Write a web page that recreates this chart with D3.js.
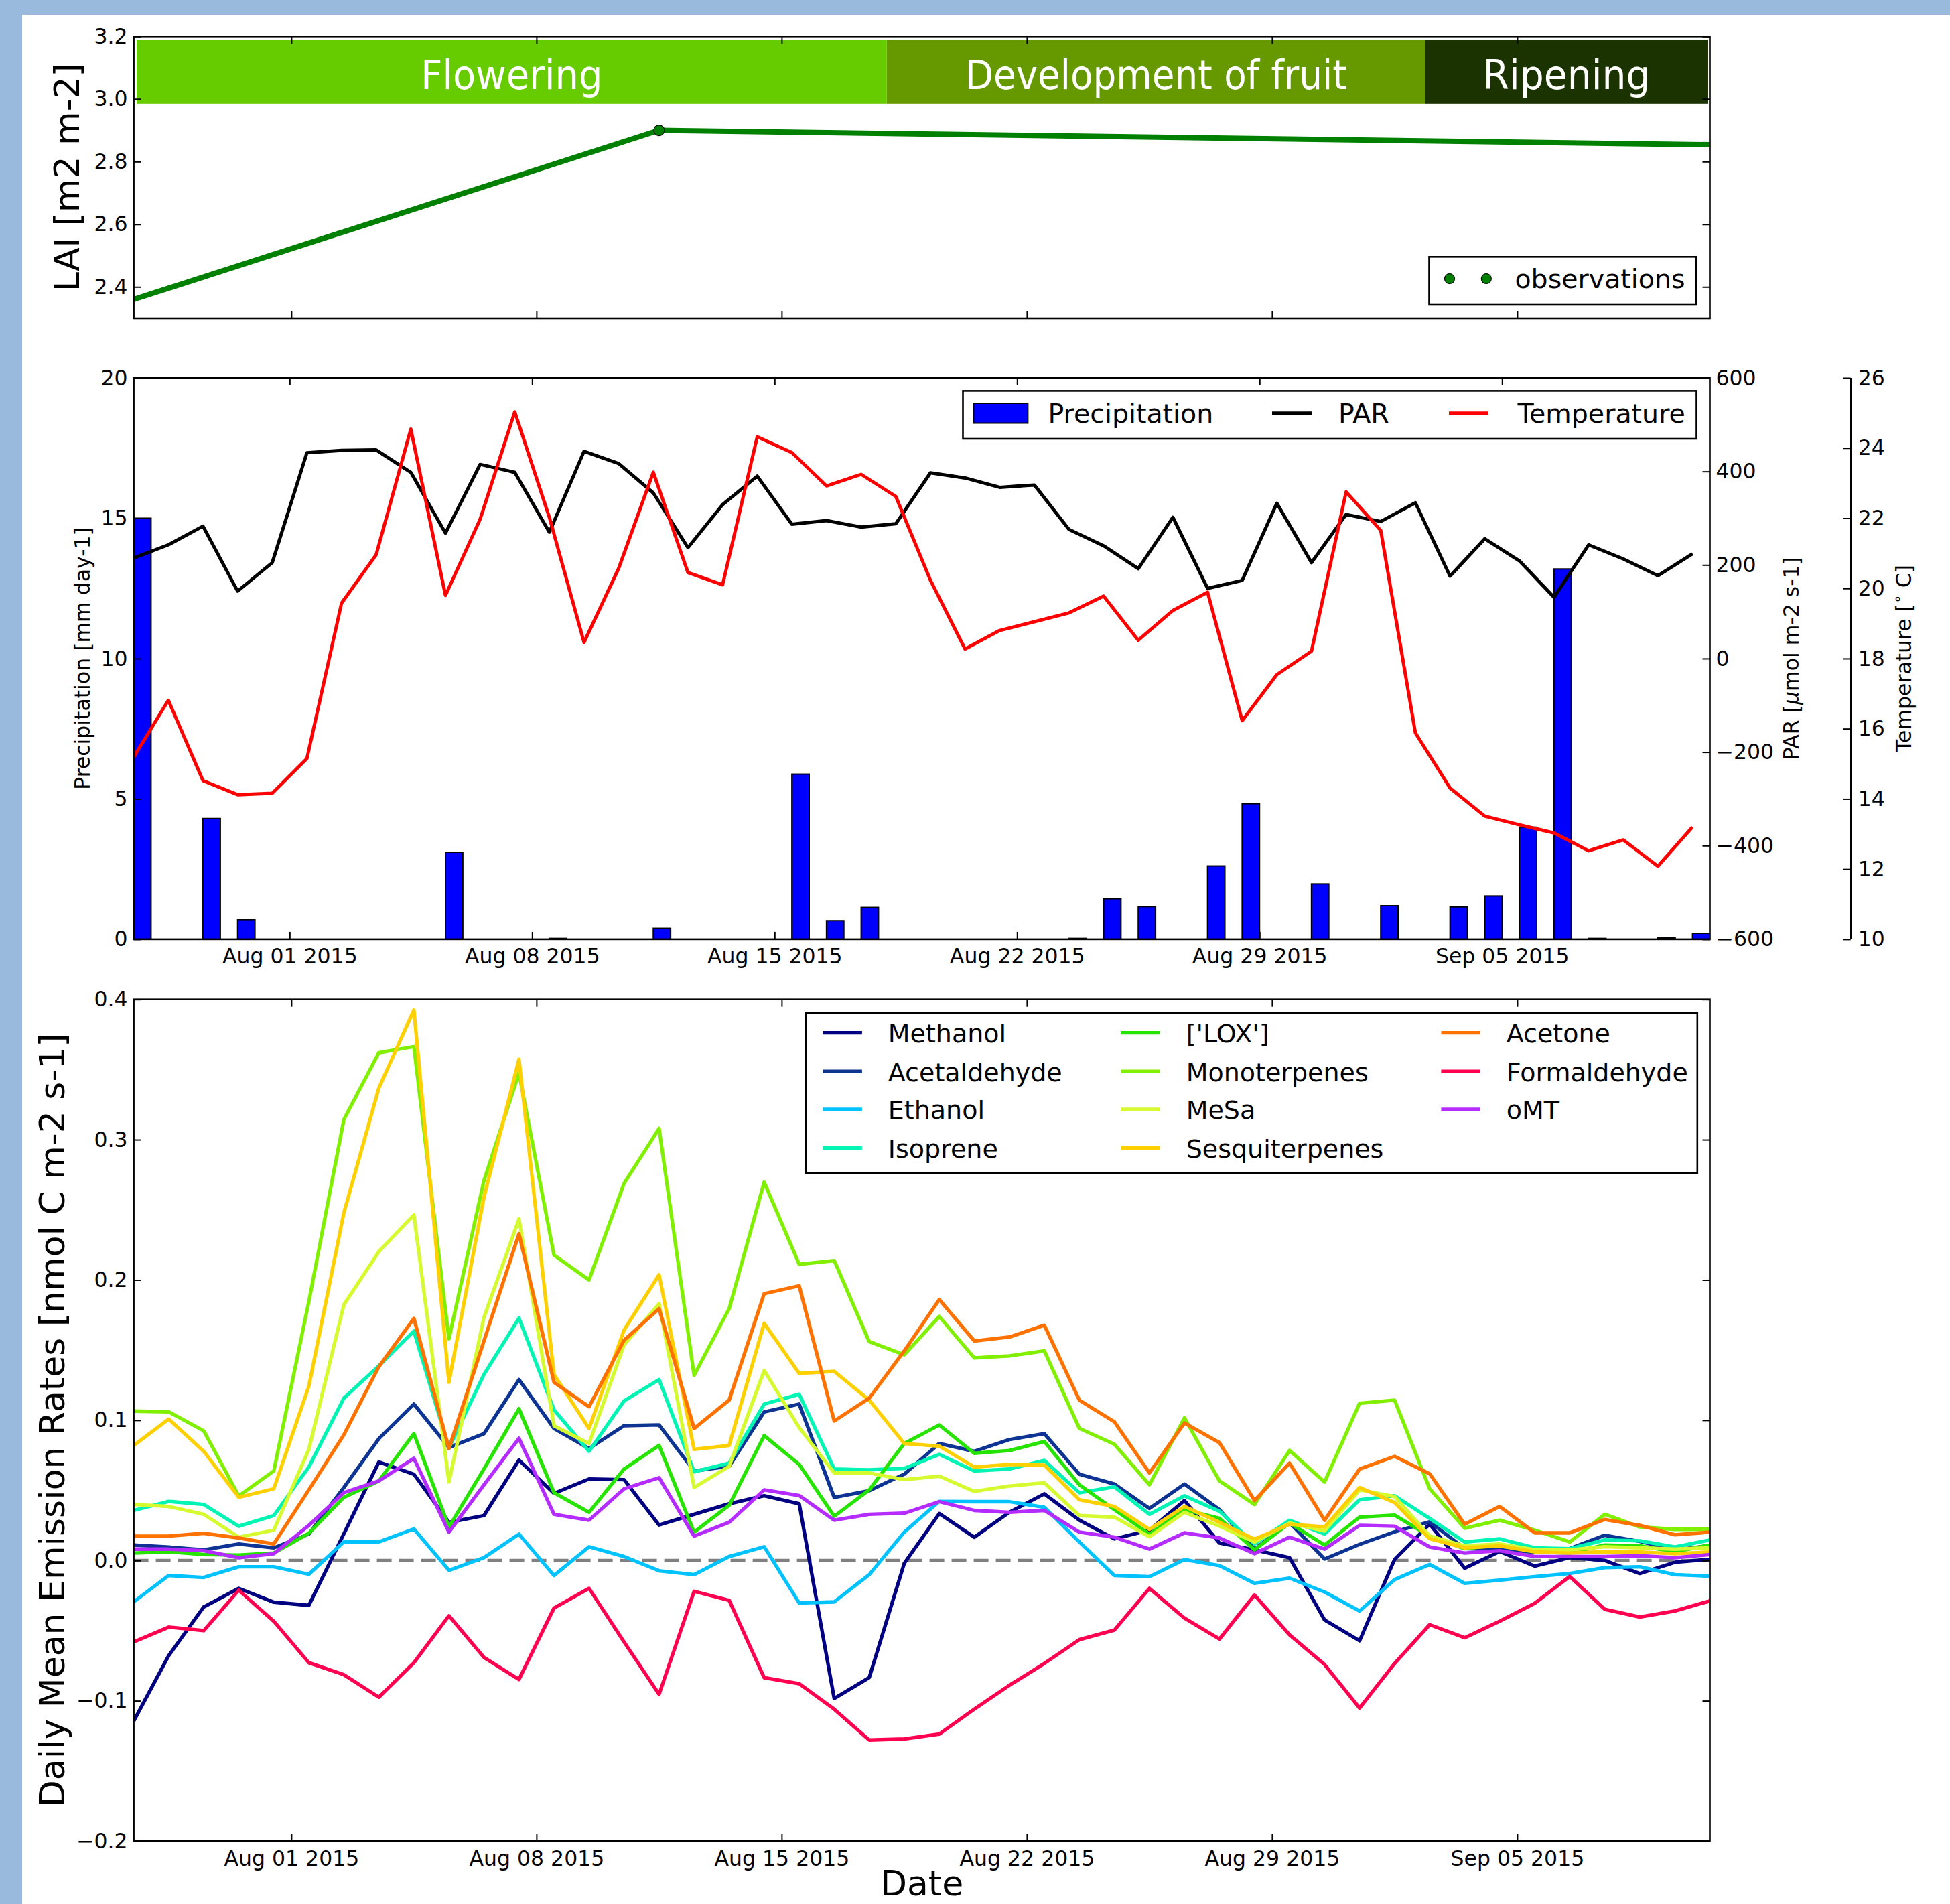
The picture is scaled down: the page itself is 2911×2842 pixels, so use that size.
<!DOCTYPE html>
<html>
<head>
<meta charset="utf-8">
<script src="https://cdn.jsdelivr.net/npm/d3@7"></script>
<style>
  html, body { margin: 0; padding: 0; background: #fff; }
  svg { display: block; }
</style>
</head>
<body>
<svg id="chart" width="2911" height="2842"></svg>
<script>
// ---------------- DATA ----------------
const days = [
  "2015-07-27","2015-07-28","2015-07-29","2015-07-30","2015-07-31",
  "2015-08-01","2015-08-02","2015-08-03","2015-08-04","2015-08-05","2015-08-06","2015-08-07",
  "2015-08-08","2015-08-09","2015-08-10","2015-08-11","2015-08-12","2015-08-13","2015-08-14",
  "2015-08-15","2015-08-16","2015-08-17","2015-08-18","2015-08-19","2015-08-20","2015-08-21",
  "2015-08-22","2015-08-23","2015-08-24","2015-08-25","2015-08-26","2015-08-27","2015-08-28",
  "2015-08-29","2015-08-30","2015-08-31","2015-09-01","2015-09-02","2015-09-03","2015-09-04",
  "2015-09-05","2015-09-06","2015-09-07","2015-09-08","2015-09-09","2015-09-10"
];
const xTickLabels = ["2015-08-01","2015-08-08","2015-08-15","2015-08-22","2015-08-29","2015-09-05"];

// LAI panel
const laiDates  = ["2015-07-27 12:00","2015-08-11 12:00","2015-09-10 12:00"];
const laiValues = [2.36, 2.90, 2.854];
const obsDates  = ["2015-08-11 12:00"];
const obsValues = [2.90];
const laiTicks  = [2.4, 2.6, 2.8, 3.0, 3.2];
const phaseNames  = ["Flowering", "Development of fruit", "Ripening"];
const phaseStarts = ["2015-07-27 14:00", "2015-08-18 00:00", "2015-09-02 09:00"];
const phaseEnds   = ["2015-08-18 00:00", "2015-09-02 09:00", "2015-09-10 10:30"];
const phaseColors = ["#66cc00", "#669900", "#1a3300"];
const phaseTextWidth = [271, 570, 250];

// Meteo panel
const precipitation = [15.0,0,4.3,0.7,0,0,0,0,0,3.1,0,0,0.03,0,0,0.39,0,0,0,5.88,0.66,1.13,0,0,0,0,0,0.03,1.44,1.16,0,2.61,4.83,0,1.97,0,1.19,0,1.15,1.54,3.99,13.19,0.03,0,0.05,0.21];
const par = [215,243,283,144,205,440,445,446,398,268,415,398,270,443,417,354,237,329,390,287,295,281,288,397,386,366,371,276,241,192,302,150,167,332,205,308,293,333,176,256,209,131,243,213,177,224];
const temperature = [15.19,16.81,14.52,14.12,14.16,15.15,19.58,20.96,24.54,19.80,21.97,25.03,22.02,18.46,20.57,23.31,20.45,20.10,24.32,23.87,22.92,23.25,22.62,20.23,18.27,18.80,19.05,19.30,19.78,18.52,19.37,19.89,16.23,17.54,18.21,22.75,21.65,15.88,14.31,13.51,13.26,13.03,12.52,12.83,12.08,13.20];
const precipTicks = [0,5,10,15,20];
const parTicks = [-600,-400,-200,0,200,400,600];
const tempTicks = [10,12,14,16,18,20,22,24,26];

// Emission panel
const methanol = [-0.1145,-0.0678,-0.0331,-0.0199,-0.0297,-0.032,0.019,0.0702,0.0615,0.0272,0.032,0.0716,0.0478,0.0581,0.0576,0.0253,0.0329,0.0404,0.0461,0.0404,-0.0984,-0.0835,-0.002,0.0334,0.0166,0.0343,0.0475,0.0287,0.0154,0.0216,0.0427,0.0124,0.0076,0.002,-0.0424,-0.0572,0.0008,0.026,-0.0055,0.0064,-0.004,0.002,0.0,-0.0093,-0.0013,0.0008];
const acetaldehyde = [0.011,0.0096,0.0076,0.0118,0.009,0.0188,0.052,0.0868,0.1115,0.0806,0.0904,0.1289,0.0941,0.0798,0.0961,0.0966,0.0638,0.0671,0.1059,0.1115,0.0449,0.0497,0.0615,0.0834,0.0778,0.0862,0.0904,0.0615,0.0545,0.0371,0.0545,0.0362,0.0081,0.027,0.001,0.0115,0.0204,0.0276,0.0085,0.0076,0.006,0.0085,0.018,0.0136,0.0076,0.0106];
const ethanol = [-0.0295,-0.0107,-0.0121,-0.0045,-0.0045,-0.0098,0.0132,0.0132,0.0225,-0.007,0.002,0.0188,-0.0107,0.0098,0.0028,-0.0073,-0.0101,0.0028,0.0098,-0.0303,-0.0295,-0.0101,0.0202,0.0421,0.0419,0.0419,0.0379,0.0132,-0.0107,-0.0115,0.0006,-0.0037,-0.0163,-0.0126,-0.0225,-0.036,-0.0136,-0.0028,-0.0163,-0.014,-0.0115,-0.0093,-0.0051,-0.0045,-0.0101,-0.0112];
const isoprene = [0.0357,0.0421,0.0399,0.0244,0.032,0.0666,0.1157,0.1388,0.1635,0.08,0.1326,0.1728,0.1073,0.0778,0.1138,0.1289,0.0632,0.0694,0.1115,0.1185,0.0652,0.0646,0.0657,0.0756,0.0638,0.0652,0.0713,0.0483,0.0525,0.0329,0.0461,0.0351,0.0118,0.0287,0.0188,0.0433,0.0461,0.03,0.0132,0.0154,0.009,0.0084,0.0146,0.014,0.0096,0.0146];
const lox = [0.0053,0.0062,0.0042,0.0039,0.0053,0.0194,0.045,0.0567,0.0904,0.0239,0.0652,0.1081,0.0483,0.0343,0.0652,0.082,0.0202,0.0393,0.089,0.0685,0.0315,0.0503,0.0834,0.0966,0.0764,0.0784,0.0848,0.0539,0.0362,0.0188,0.0362,0.03,0.0076,0.0267,0.011,0.0309,0.0323,0.0174,0.0084,0.0112,0.0062,0.0053,0.011,0.0104,0.0062,0.011];
const monoterpenes = [0.1065,0.106,0.0924,0.046,0.0638,0.1846,0.3143,0.362,0.3663,0.158,0.2708,0.3475,0.2177,0.2,0.2688,0.308,0.132,0.1795,0.2697,0.2112,0.2138,0.156,0.1466,0.1739,0.1444,0.1458,0.1494,0.0941,0.0829,0.054,0.1017,0.0567,0.0399,0.0784,0.0559,0.1121,0.1143,0.0511,0.023,0.0287,0.0216,0.0132,0.0329,0.0239,0.0222,0.0222];
const mesa = [0.0399,0.0385,0.0329,0.0166,0.0216,0.0792,0.1823,0.2202,0.2463,0.0559,0.1733,0.2435,0.0961,0.0834,0.1537,0.1831,0.052,0.0671,0.1354,0.0947,0.0624,0.0624,0.0576,0.0601,0.0492,0.0531,0.0553,0.032,0.0309,0.0169,0.0343,0.0244,0.0132,0.0267,0.0211,0.0503,0.0455,0.0174,0.0104,0.0118,0.0076,0.0076,0.0098,0.009,0.0081,0.009];
const sesquiterpenes = [0.082,0.1008,0.0778,0.045,0.0511,0.1242,0.2478,0.3368,0.3924,0.127,0.259,0.3573,0.1326,0.0941,0.1643,0.2037,0.0792,0.082,0.1691,0.1334,0.1348,0.1143,0.0834,0.0815,0.0666,0.0685,0.068,0.0433,0.0385,0.0222,0.0385,0.0272,0.0152,0.0258,0.0239,0.052,0.0413,0.0155,0.009,0.0104,0.0062,0.0053,0.0062,0.006,0.0048,0.006];
const acetone = [0.0174,0.0174,0.0194,0.016,0.0118,0.0503,0.0896,0.1382,0.1725,0.0798,0.1565,0.2329,0.127,0.1096,0.157,0.1795,0.0941,0.1143,0.1902,0.1958,0.0994,0.1157,0.1494,0.186,0.1565,0.1593,0.1677,0.1143,0.0989,0.0624,0.098,0.084,0.0427,0.0694,0.0287,0.0652,0.0742,0.0618,0.0258,0.0385,0.0197,0.0197,0.0292,0.025,0.0183,0.0202];
const formaldehyde = [-0.0581,-0.0475,-0.05,-0.0212,-0.0433,-0.0729,-0.0814,-0.0975,-0.0729,-0.0394,-0.0691,-0.0848,-0.0339,-0.0199,-0.0581,-0.0954,-0.022,-0.0284,-0.0835,-0.0878,-0.106,-0.128,-0.1272,-0.1238,-0.106,-0.089,-0.0734,-0.0564,-0.0496,-0.0199,-0.0411,-0.056,-0.0246,-0.053,-0.0742,-0.1052,-0.0734,-0.0458,-0.0551,-0.0433,-0.0305,-0.0114,-0.0348,-0.0403,-0.036,-0.0288];
const omt = [0.0081,0.0081,0.007,0.002,0.0048,0.025,0.0483,0.0567,0.0728,0.0202,0.0539,0.0871,0.0329,0.0287,0.0511,0.059,0.0174,0.0272,0.0503,0.0463,0.0287,0.0329,0.0337,0.0419,0.0357,0.0343,0.0357,0.0202,0.0166,0.0081,0.0197,0.016,0.0048,0.0166,0.0081,0.025,0.0244,0.0096,0.0053,0.007,0.0028,0.0028,0.0028,0.0034,0.002,0.0042];

const seriesNames = ["Methanol","Acetaldehyde","Ethanol","Isoprene","['LOX']","Monoterpenes","MeSa","Sesquiterpenes","Acetone","Formaldehyde","oMT"];
const seriesValues = [methanol, acetaldehyde, ethanol, isoprene, lox, monoterpenes, mesa, sesquiterpenes, acetone, formaldehyde, omt];
const seriesColors = ["#000080","#0d3393","#00c2ff","#00f5b5","#26e400","#80f000","#d6fa30","#ffd000","#ff7200","#ff0050","#b42cff"];
const emisTicks = [-0.2,-0.1,0.0,0.1,0.2,0.3,0.4];

// ---------------- LAYOUT ----------------
const W = 2911, H = 2842;
const FONT = '"DejaVu Sans", "Liberation Sans", sans-serif';
const L = 199.6, R = 2552.5;
const P1 = {top: 54.3, bottom: 475};
const P2 = {top: 564, bottom: 1401.9};
const P3 = {top: 1491.7, bottom: 2748};
const TICK = 11, TFS = 31.5;

const parseT = d3.utcParse("%Y-%m-%d %H:%M");
const dayDates = days.map(d => parseT(d + " 12:00"));
const tickDates = xTickLabels.map(d => parseT(d + " 00:00"));

const svg = d3.select("#chart");
svg.append("rect").attr("width", W).attr("height", H).attr("fill", "#99badd");
svg.append("rect").attr("x", 33).attr("y", 22).attr("width", W - 33).attr("height", H - 22).attr("fill", "#fff");

const defs = svg.append("defs");
function clip(id, p) {
  defs.append("clipPath").attr("id", id).append("rect")
    .attr("x", L).attr("y", p.top).attr("width", R - L).attr("height", p.bottom - p.top);
  return `url(#${id})`;
}

function styleAxis(sel) {
  sel.select(".domain").remove();
  sel.selectAll(".tick line").attr("stroke", "#000").attr("stroke-width", 2);
  sel.selectAll(".tick text").attr("font-size", TFS).attr("font-family", FONT).attr("fill", "#000");
}
function frame(p) {
  svg.append("rect").attr("x", L).attr("y", p.top).attr("width", R - L).attr("height", p.bottom - p.top)
    .attr("fill", "none").attr("stroke", "#000").attr("stroke-width", 2.6);
}
function xAxes(x, p, labels, pad) {
  const b = svg.append("g").attr("transform", `translate(0,${p.bottom})`)
    .call(d3.axisBottom(x).tickValues(tickDates).tickSize(-TICK).tickPadding(pad)
      .tickFormat(labels ? d3.utcFormat("%b %d %Y") : ""));
  styleAxis(b);
  const t = svg.append("g").attr("transform", `translate(0,${p.top})`)
    .call(d3.axisTop(x).tickValues(tickDates).tickSize(-TICK).tickFormat(""));
  styleAxis(t);
}

// ---------------- PANEL 1 : LAI ----------------
const x1 = d3.scaleUtc().domain([parseT("2015-07-27 12:00"), parseT("2015-09-10 12:00")]).range([L, R]);
const y1 = d3.scaleLinear().domain([2.3, 3.2]).range([P1.bottom, P1.top]);
const c1 = clip("c1", P1);

const phases = svg.append("g").attr("clip-path", c1);
phaseNames.forEach((name, i) => {
  const xa = x1(parseT(phaseStarts[i])), xb = x1(parseT(phaseEnds[i]));
  phases.append("rect").attr("x", xa).attr("y", y1(3.19)).attr("width", xb - xa)
    .attr("height", y1(2.985) - y1(3.19)).attr("fill", phaseColors[i]);
  phases.append("text").attr("x", (xa + xb) / 2).attr("y", 133)
    .attr("text-anchor", "middle").attr("font-family", FONT).attr("font-size", 60)
    .attr("fill", "#fff").attr("textLength", phaseTextWidth[i]).attr("lengthAdjust", "spacingAndGlyphs")
    .text(name);
});

svg.append("path").attr("clip-path", c1)
  .datum(laiDates.map((d, i) => [parseT(d), laiValues[i]]))
  .attr("d", d3.line().x(d => x1(d[0])).y(d => y1(d[1])))
  .attr("fill", "none").attr("stroke", "#008000").attr("stroke-width", 8);
svg.append("g").selectAll("circle").data(obsDates).join("circle")
  .attr("cx", d => x1(parseT(d))).attr("cy", (d, i) => y1(obsValues[i])).attr("r", 8)
  .attr("fill", "#008000").attr("stroke", "#000").attr("stroke-width", 1.2);

frame(P1);
xAxes(x1, P1, false, 14);
styleAxis(svg.append("g").attr("transform", `translate(${L},0)`)
  .call(d3.axisLeft(y1).tickValues(laiTicks).tickSize(-TICK).tickPadding(9).tickFormat(d3.format(".1f"))));
styleAxis(svg.append("g").attr("transform", `translate(${R},0)`)
  .call(d3.axisRight(y1).tickValues(laiTicks).tickSize(-TICK).tickFormat("")));

svg.append("text").attr("transform", `translate(100,${(P1.top + P1.bottom) / 2}) rotate(-90)`)
  .attr("text-anchor", "middle").attr("dominant-baseline", "central")
  .attr("font-family", FONT).attr("font-size", 52).text("LAI [m2 m-2]");

// legend 1
const lg1 = svg.append("g");
lg1.append("rect").attr("x", 2133.5).attr("y", 383.3).attr("width", 398.5).attr("height", 71.7)
  .attr("fill", "#fff").attr("stroke", "#000").attr("stroke-width", 2.6);
[2164, 2218.8].forEach(cx => lg1.append("circle").attr("cx", cx).attr("cy", 416).attr("r", 7.5)
  .attr("fill", "#008000").attr("stroke", "#000").attr("stroke-width", 1.2));
lg1.append("text").attr("x", 2261.4).attr("y", 416).attr("dy", "0.36em")
  .attr("font-family", FONT).attr("font-size", 39.5).text("observations");

// ---------------- PANEL 2 : METEO ----------------
const x2 = d3.scaleUtc().domain([parseT("2015-07-27 12:00"), parseT("2015-09-11 00:00")]).range([L, R]);
const yP = d3.scaleLinear().domain([0, 20]).range([P2.bottom, P2.top]);
const yPAR = d3.scaleLinear().domain([-600, 600]).range([P2.bottom, P2.top]);
const yT = d3.scaleLinear().domain([10, 26]).range([P2.bottom, P2.top]);
const c2 = clip("c2", P2);

svg.append("g").attr("clip-path", c2).selectAll("rect").data(dayDates).join("rect")
  .attr("x", d => x2(d))
  .attr("width", d => x2(d3.utcHour.offset(d, 12)) - x2(d))
  .attr("y", (d, i) => yP(precipitation[i]))
  .attr("height", (d, i) => yP(0) - yP(precipitation[i]))
  .attr("fill", "#0000ff").attr("stroke", "#000").attr("stroke-width", 2);

svg.append("path").attr("clip-path", c2).datum(par)
  .attr("d", d3.line().x((d, i) => x2(dayDates[i])).y(d => yPAR(d)))
  .attr("fill", "none").attr("stroke", "#000").attr("stroke-width", 5).attr("stroke-linejoin", "round");
svg.append("path").attr("clip-path", c2).datum(temperature)
  .attr("d", d3.line().x((d, i) => x2(dayDates[i])).y(d => yT(d)))
  .attr("fill", "none").attr("stroke", "#ff0000").attr("stroke-width", 5).attr("stroke-linejoin", "round");

frame(P2);
xAxes(x2, P2, true, 14);
styleAxis(svg.append("g").attr("transform", `translate(${L},0)`)
  .call(d3.axisLeft(yP).tickValues(precipTicks).tickSize(-TICK).tickPadding(9).tickFormat(d3.format("d"))));
styleAxis(svg.append("g").attr("transform", `translate(${R},0)`)
  .call(d3.axisRight(yPAR).tickValues(parTicks).tickSize(-TICK).tickPadding(9).tickFormat(d3.format("d"))));
const TX = 2762.7;
svg.append("line").attr("x1", TX).attr("x2", TX).attr("y1", P2.top).attr("y2", P2.bottom)
  .attr("stroke", "#000").attr("stroke-width", 2.6);
styleAxis(svg.append("g").attr("transform", `translate(${TX},0)`)
  .call(d3.axisRight(yT).tickValues(tempTicks).tickSize(-TICK).tickPadding(11).tickFormat(d3.format("d"))));

const midP2 = (P2.top + P2.bottom) / 2;
svg.append("text").attr("transform", `translate(123,${midP2}) rotate(-90)`)
  .attr("text-anchor", "middle").attr("dominant-baseline", "central")
  .attr("font-family", FONT).attr("font-size", 31.5).text("Precipitation [mm day-1]");
const parLab = svg.append("text").attr("transform", `translate(2674,${midP2}) rotate(-90)`)
  .attr("text-anchor", "middle").attr("dominant-baseline", "central")
  .attr("font-family", FONT).attr("font-size", 31.5);
parLab.append("tspan").text("PAR [");
parLab.append("tspan").attr("font-style", "italic").text("μ");
parLab.append("tspan").text("mol m-2 s-1]");
const tLab = svg.append("text").attr("transform", `translate(2842,${midP2}) rotate(-90)`)
  .attr("text-anchor", "middle").attr("dominant-baseline", "central")
  .attr("font-family", FONT).attr("font-size", 31.5);
tLab.append("tspan").text("Temperature [");
tLab.append("tspan").attr("font-size", 22).attr("dy", "-0.45em").text("∘");
tLab.append("tspan").attr("dy", "0.3em").text(" C]");

// legend 2
const lg2 = svg.append("g");
lg2.append("rect").attr("x", 1437.5).attr("y", 583.4).attr("width", 1095).attr("height", 71.6)
  .attr("fill", "#fff").attr("stroke", "#000").attr("stroke-width", 2.6);
lg2.append("rect").attr("x", 1453.4).attr("y", 602).attr("width", 81).attr("height", 29.5)
  .attr("fill", "#0000ff").attr("stroke", "#000").attr("stroke-width", 2);
lg2.append("line").attr("x1", 1899).attr("x2", 1958.5).attr("y1", 616.8).attr("y2", 616.8)
  .attr("stroke", "#000").attr("stroke-width", 5);
lg2.append("line").attr("x1", 2163).attr("x2", 2222).attr("y1", 616.8).attr("y2", 616.8)
  .attr("stroke", "#ff0000").attr("stroke-width", 5);
[["Precipitation", 1564.4], ["PAR", 1998], ["Temperature", 2265.6]].forEach(([t, x]) =>
  lg2.append("text").attr("x", x).attr("y", 616.8).attr("dy", "0.37em")
    .attr("font-family", FONT).attr("font-size", 39.5).text(t));

// ---------------- PANEL 3 : EMISSIONS ----------------
const x3 = d3.scaleUtc().domain([parseT("2015-07-27 12:00"), parseT("2015-09-10 12:00")]).range([L, R]);
const y3 = d3.scaleLinear().domain([-0.2, 0.4]).range([P3.bottom, P3.top]);
const c3 = clip("c3", P3);

svg.append("line").attr("x1", L).attr("x2", R).attr("y1", y3(0)).attr("y2", y3(0))
  .attr("stroke", "#808080").attr("stroke-width", 5).attr("stroke-dasharray", "22,11");

const emLine = d3.line().x((d, i) => x3(dayDates[i])).y(d => y3(d));
svg.append("g").attr("clip-path", c3).selectAll("path").data(seriesValues).join("path")
  .attr("d", d => emLine(d))
  .attr("fill", "none").attr("stroke", (d, i) => seriesColors[i])
  .attr("stroke-width", 5.3).attr("stroke-linejoin", "round");

frame(P3);
xAxes(x3, P3, true, 15);
styleAxis(svg.append("g").attr("transform", `translate(${L},0)`)
  .call(d3.axisLeft(y3).tickValues(emisTicks).tickSize(-TICK).tickPadding(9).tickFormat(d3.format(".1f"))));
styleAxis(svg.append("g").attr("transform", `translate(${R},0)`)
  .call(d3.axisRight(y3).tickValues(emisTicks).tickSize(-TICK).tickFormat("")));

svg.append("text").attr("transform", `translate(78,${(P3.top + P3.bottom) / 2}) rotate(-90)`)
  .attr("text-anchor", "middle").attr("dominant-baseline", "central")
  .attr("font-family", FONT).attr("font-size", 52).text("Daily Mean Emission Rates [nmol C m-2 s-1]");
svg.append("text").attr("x", (L + R) / 2).attr("y", 2829).attr("text-anchor", "middle")
  .attr("font-family", FONT).attr("font-size", 52).text("Date");

// legend 3
const lg3 = svg.append("g");
lg3.append("rect").attr("x", 1203.3).attr("y", 1512.3).attr("width", 1330.5).attr("height", 238.7)
  .attr("fill", "#fff").attr("stroke", "#000").attr("stroke-width", 2.6);
const colLineX = [1228.5, 1673.4, 2151.4], colTextX = [1325.8, 1770.7, 2248.7];
const rowY = [1541.6, 1599.1, 1656, 1713.5];
seriesNames.forEach((name, i) => {
  const col = Math.floor(i / 4), row = i % 4;
  lg3.append("line").attr("x1", colLineX[col]).attr("x2", colLineX[col] + 58.4)
    .attr("y1", rowY[row]).attr("y2", rowY[row])
    .attr("stroke", seriesColors[i]).attr("stroke-width", 5.3);
  lg3.append("text").attr("x", colTextX[col]).attr("y", rowY[row]).attr("dy", "0.38em")
    .attr("font-family", FONT).attr("font-size", 38).text(name);
});
</script>
</body>
</html>
